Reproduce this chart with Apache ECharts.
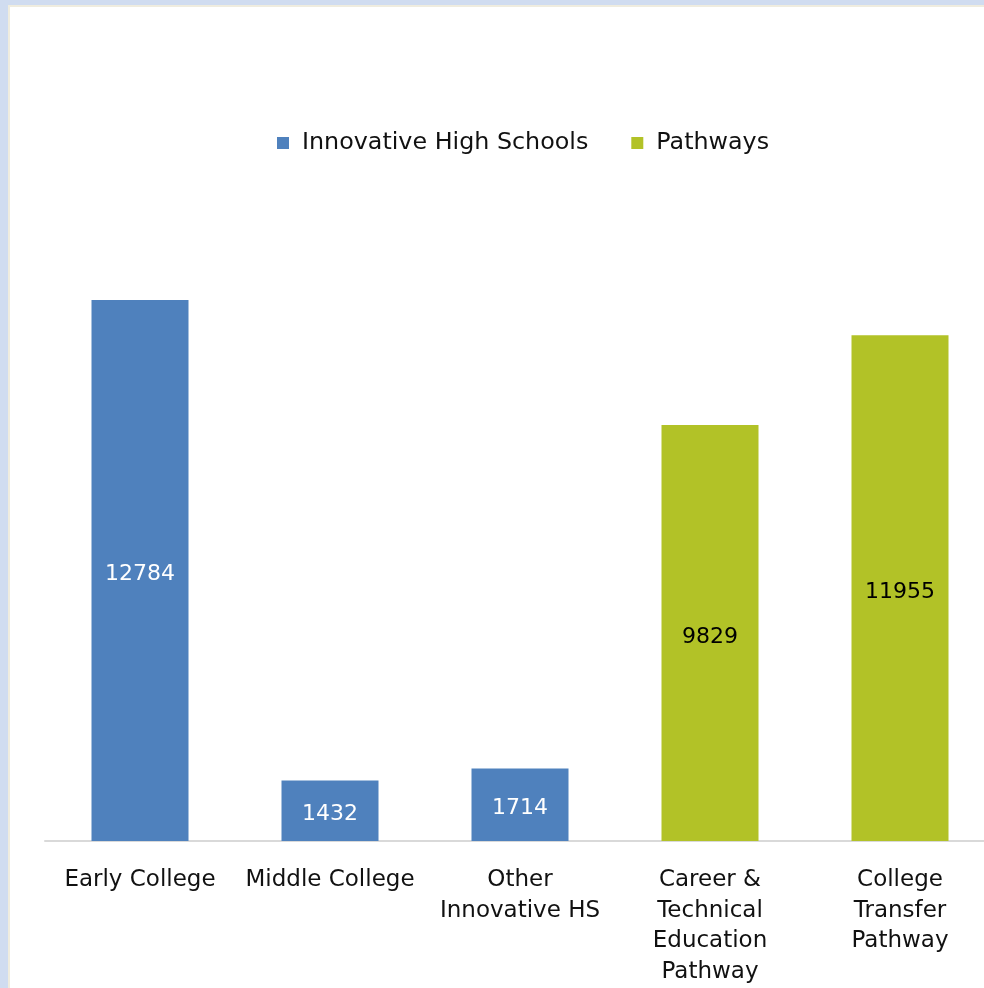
<!DOCTYPE html>
<html>
<head>
<meta charset="utf-8">
<script src="https://cdn.jsdelivr.net/npm/echarts@6/dist/echarts.min.js"></script>
<style>
  html, body { margin: 0; padding: 0; background: #D0DCF0; width: 984px; height: 988px; overflow: hidden; }
  #frame { position: absolute; left: 8px; top: 5px; width: 990px; height: 1000px; background: #fff; border: 2px solid #EFECDF; box-sizing: border-box; }
  #chart { position: absolute; left: 0; top: 0; width: 1010px; height: 988px; }
</style>
</head>
<body>
<div id="frame"></div>
<div id="chart"></div>
<script>
const categories = ['Early College', 'Middle College', 'Other\nInnovative HS', 'Career &\nTechnical\nEducation\nPathway', 'College\nTransfer\nPathway'];
const seriesNames = ['Innovative High Schools', 'Pathways'];
const innovativeValues = [12784, 1432, 1714, '-', '-'];
const pathwaysValues = ['-', '-', '-', 9829, 11955];

const chart = echarts.init(document.getElementById('chart'));
const font = 'DejaVu Sans';
chart.setOption({
  animation: false,
  legend: {
    data: seriesNames,
    left: 272,
    top: 126,
    itemWidth: 12,
    itemHeight: 12,
    itemGap: 43,
    icon: 'rect',
    textStyle: { fontFamily: font, fontSize: 23.8, color: '#111', padding: [0, 0, 0, 8] }
  },
  grid: { left: 45, top: 164, width: 950, height: 677, containLabel: false },
  xAxis: {
    type: 'category',
    data: categories,
    axisLine: { lineStyle: { color: '#D9D9D9', width: 2 } },
    axisTick: { show: false },
    axisLabel: { fontFamily: font, fontSize: 23, color: '#111', lineHeight: 30.5, margin: 24, interval: 0 }
  },
  yAxis: {
    type: 'value', min: 0, max: 16000, show: false,
    splitLine: { show: false }
  },
  series: [
    {
      name: seriesNames[0], type: 'bar', stack: 'all', data: innovativeValues, barWidth: 97,
      itemStyle: { color: '#4F81BD' },
      label: { show: true, position: 'inside', fontFamily: font, fontSize: 22, color: '#fff', offset: [0, 4] }
    },
    {
      name: seriesNames[1], type: 'bar', stack: 'all', data: pathwaysValues, barWidth: 97,
      itemStyle: { color: '#B2C227' },
      label: { show: true, position: 'inside', fontFamily: font, fontSize: 22, color: '#000', offset: [0, 4] }
    }
  ]
});
</script>
</body>
</html>
